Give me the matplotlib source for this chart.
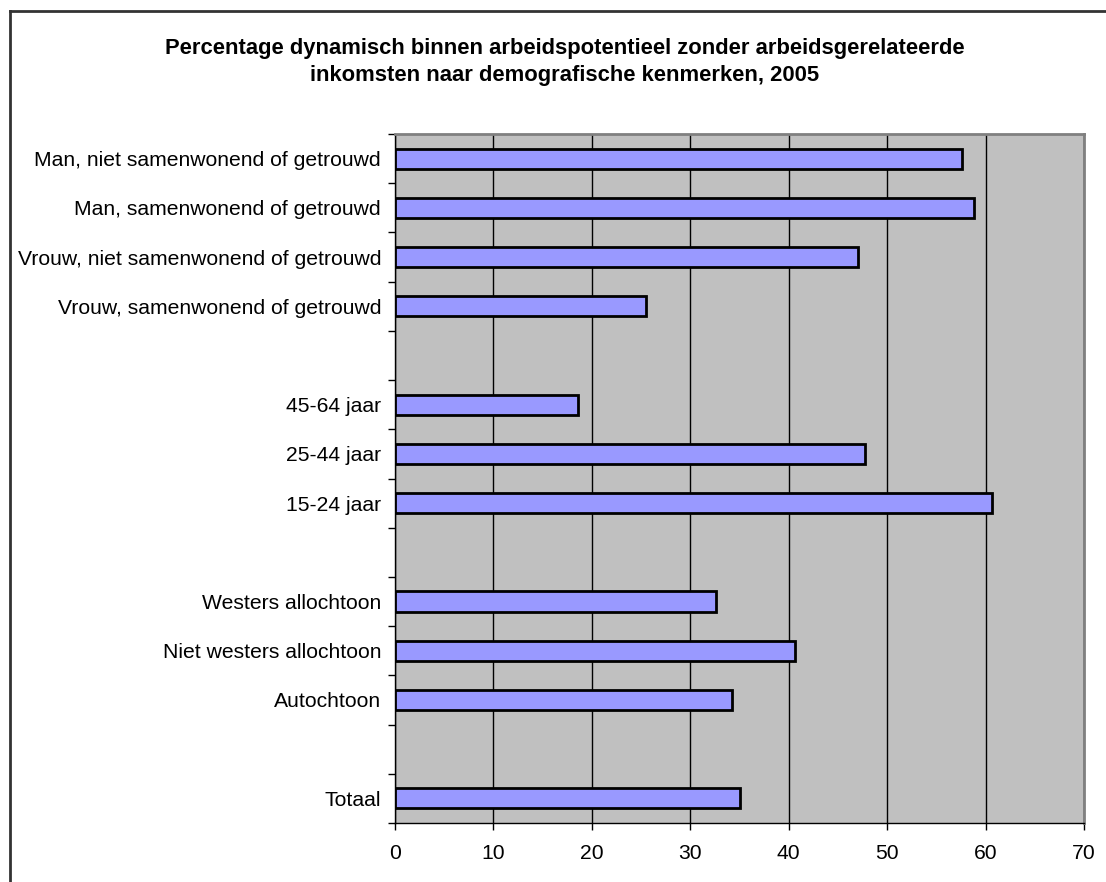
import matplotlib
matplotlib.use("Agg")
import matplotlib.pyplot as plt
from matplotlib.lines import Line2D
import numpy as np

plt.rcParams['font.family'] = ['Liberation Sans', 'DejaVu Sans']

title = ("Percentage dynamisch binnen arbeidspotentieel zonder arbeidsgerelateerde\n"
         "inkomsten naar demografische kenmerken, 2005")

# Categories top to bottom; None marks an empty slot between groups
categories = ["Man, niet samenwonend of getrouwd",
              "Man, samenwonend of getrouwd",
              "Vrouw, niet samenwonend of getrouwd",
              "Vrouw, samenwonend of getrouwd",
              None,
              "45-64 jaar",
              "25-44 jaar",
              "15-24 jaar",
              None,
              "Westers allochtoon",
              "Niet westers allochtoon",
              "Autochtoon",
              None,
              "Totaal"]
values = [57.6, 58.8, 47.0, 25.5, None,
          18.6, 47.8, 60.7, None,
          32.6, 40.6, 34.2, None,
          35.1]
xticks = [0, 10, 20, 30, 40, 50, 60, 70]

W, H = 1106, 882
fig = plt.figure(figsize=(W/100, H/100), dpi=100)
ax = fig.add_axes([395/W, 1-823/H, (1084-395)/W, (823-134)/H])
ax.set_facecolor('#C0C0C0')

n = len(categories)
pos = [i for i, v in enumerate(values) if v is not None]
vals = [v for v in values if v is not None]
labs = [c for c in categories if c is not None]

ax.barh(pos, vals, height=0.41, color='#9999FF', edgecolor='black', linewidth=2, zorder=3)
ax.set_ylim(n-0.5, -0.5)
ax.set_xlim(0, 70)
ax.set_xticks(xticks)
ax.set_xticklabels([str(t) for t in xticks], fontsize=15.2)
ax.xaxis.grid(True, color='black', linewidth=1, zorder=1)
ax.set_axisbelow(True)

ax.set_yticks(np.arange(-0.5, n, 1.0))
ax.set_yticklabels([])
ax.set_yticks(pos, minor=True)
ax.set_yticklabels(labs, minor=True, fontsize=15.2)
ax.tick_params(axis='y', which='major', length=5, width=1, direction='out', color='black')
ax.tick_params(axis='y', which='minor', length=0, pad=10)
ax.tick_params(axis='x', length=5, width=1, direction='out', pad=10, color='black')

for s in ['top', 'right']:
    ax.spines[s].set_color('#808080')
    ax.spines[s].set_linewidth(2)
for s in ['bottom', 'left']:
    ax.spines[s].set_color('black')
    ax.spines[s].set_linewidth(1)

fig.text(565/W, 1-62/H, title, ha='center', va='center', fontsize=15.8,
         fontweight='bold', linespacing=1.4)

# outer chart border (top and left visible, extends beyond image)
fig.add_artist(Line2D([10/W, 1.0], [1-11/H, 1-11/H], color='#333333', linewidth=2,
                      transform=fig.transFigure))
fig.add_artist(Line2D([10/W, 10/W], [0, 1-11/H], color='#333333', linewidth=2,
                      transform=fig.transFigure))

fig.savefig('out.png', dpi=100)
